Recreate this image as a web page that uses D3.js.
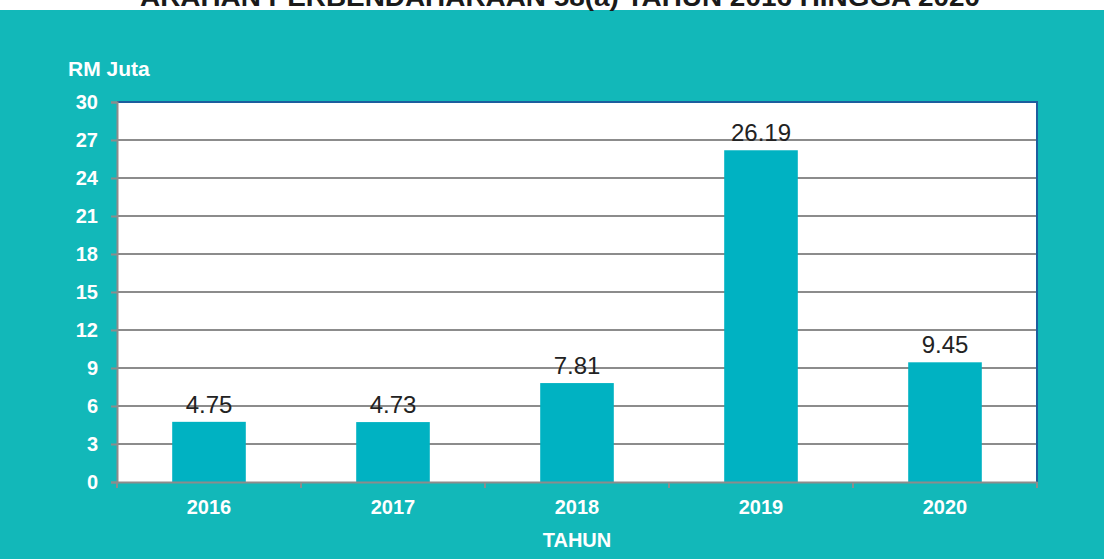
<!DOCTYPE html>
<html>
<head>
<meta charset="utf-8">
<script src="https://cdn.jsdelivr.net/npm/d3@7"></script>
<style>
  body { margin: 0; background: #ffffff; }
  svg { display: block; }
</style>
</head>
<body>
<div id="chart"></div>
<script>
// data
var years = ["2016", "2017", "2018", "2019", "2020"];
var amounts = [4.75, 4.73, 7.81, 26.19, 9.45];
var yTicks = [0, 3, 6, 9, 12, 15, 18, 21, 24, 27, 30];
var titleText = "ARAHAN PERBENDAHARAAN 58(a) TAHUN 2016 HINGGA 2020";

var W = 1104, H = 559;
var margin = { top: 102, right: 67, bottom: 77, left: 117 },
    width = W - margin.left - margin.right,
    height = H - margin.top - margin.bottom;

var font = "Liberation Sans, Arial, sans-serif";

var svg = d3.select("#chart")
    .append("svg")
    .attr("width", W)
    .attr("height", H);

// teal panel
svg.append("rect")
    .attr("x", 0).attr("y", 10)
    .attr("width", W).attr("height", H - 10)
    .attr("fill", "#12b8b9");

// title (cut off at the top, as in the source)
svg.append("text")
    .attr("x", 140).attr("y", 6)
    .attr("textLength", 840)
    .attr("lengthAdjust", "spacingAndGlyphs")
    .attr("font-family", font)
    .attr("font-weight", "bold")
    .attr("font-size", 26)
    .attr("fill", "#1a1a1a")
    .text(titleText);

var g = svg.append("g")
    .attr("transform", "translate(" + margin.left + "," + margin.top + ")");

// plot area
g.append("rect")
    .attr("width", width).attr("height", height)
    .attr("fill", "#ffffff");

var x = d3.scaleBand()
    .domain(years)
    .range([0, width])
    .paddingInner(0.6)
    .paddingOuter(0.3);

var y = d3.scaleLinear()
    .domain([0, 30])
    .range([height, 0]);

// gridlines
g.selectAll(".grid")
    .data(yTicks.filter(function (d) { return d > 0 && d < 30; }))
    .enter().append("line")
    .attr("x1", 0).attr("x2", width)
    .attr("y1", function (d) { return y(d); })
    .attr("y2", function (d) { return y(d); })
    .attr("stroke", "#8c8c8c")
    .attr("stroke-width", 2);

// border top/right
g.append("path")
    .attr("d", "M0," + y(30) + "H" + width + "V" + height)
    .attr("fill", "none")
    .attr("stroke", "#1d5e9e")
    .attr("stroke-width", 2);

// bars
g.selectAll(".bar")
    .data(amounts)
    .enter().append("rect")
    .attr("x", function (d, i) { return x(years[i]); })
    .attr("y", function (d) { return y(d); })
    .attr("width", x.bandwidth())
    .attr("height", function (d) { return height - y(d); })
    .attr("fill", "#00b2c2");

// value labels
g.selectAll(".val")
    .data(amounts)
    .enter().append("text")
    .attr("x", function (d, i) { return x(years[i]) + x.bandwidth() / 2; })
    .attr("y", function (d) { return y(d) - 9; })
    .attr("text-anchor", "middle")
    .attr("font-family", font)
    .attr("font-size", 24)
    .attr("fill", "#222222")
    .text(function (d) { return d.toFixed(2); });

// y axis
var yAxis = g.append("g")
    .call(d3.axisLeft(y).tickValues(yTicks).tickSize(6).tickPadding(13));
yAxis.select(".domain").attr("stroke", "#8c8c8c").attr("stroke-width", 2);
yAxis.selectAll(".tick line").attr("stroke", "#8c8c8c").attr("stroke-width", 2);
yAxis.selectAll(".tick text")
    .attr("fill", "#ffffff")
    .attr("font-family", font)
    .attr("font-weight", "bold")
    .attr("font-size", 20);

// x axis
var xAxis = g.append("g")
    .attr("transform", "translate(0," + height + ")")
    .call(d3.axisBottom(x).tickSize(0).tickPadding(18));
xAxis.select(".domain").attr("stroke", "#8c8c8c").attr("stroke-width", 2);
xAxis.selectAll(".tick text")
    .attr("fill", "#ffffff")
    .attr("font-family", font)
    .attr("font-weight", "bold")
    .attr("font-size", 20);

// category boundary ticks
g.selectAll(".sep")
    .data(d3.range(years.length + 1))
    .enter().append("line")
    .attr("x1", function (i) { return i * x.step(); })
    .attr("x2", function (i) { return i * x.step(); })
    .attr("y1", height).attr("y2", height + 6)
    .attr("stroke", "#8c8c8c")
    .attr("stroke-width", 2);

// axis titles
svg.append("text")
    .attr("x", 68).attr("y", 76)
    .attr("font-family", font)
    .attr("font-weight", "bold")
    .attr("font-size", 21)
    .attr("fill", "#ffffff")
    .text("RM Juta");

svg.append("text")
    .attr("x", margin.left + width / 2).attr("y", 547)
    .attr("text-anchor", "middle")
    .attr("font-family", font)
    .attr("font-weight", "bold")
    .attr("font-size", 20)
    .attr("fill", "#ffffff")
    .text("TAHUN");
</script>
</body>
</html>
